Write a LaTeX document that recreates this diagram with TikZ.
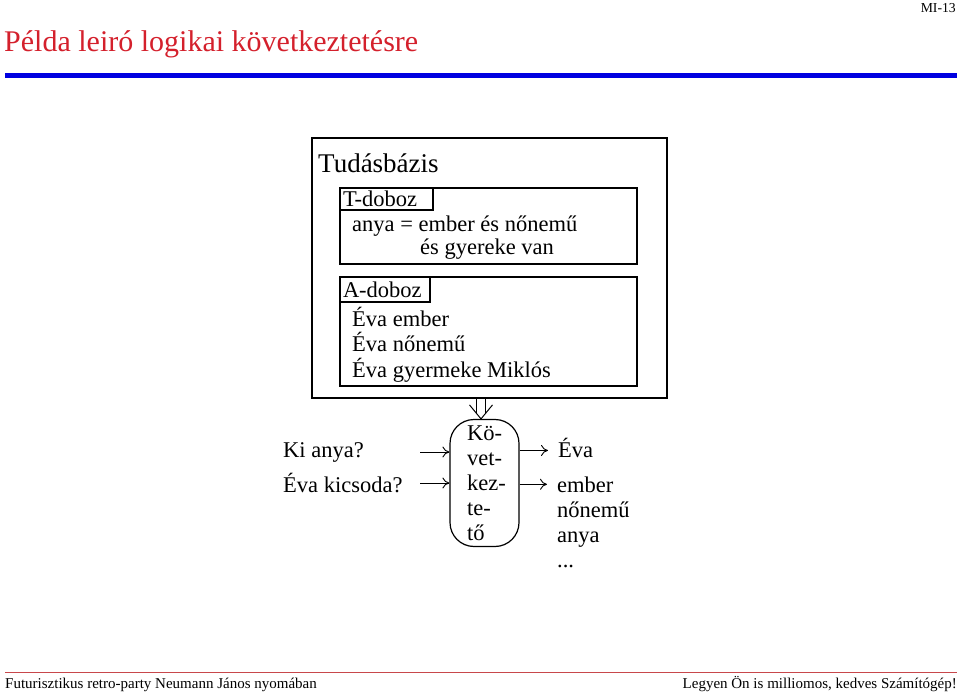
\documentclass[tikz,border=0pt]{standalone}
\usepackage{fontspec}
\setmainfont{Liberation Serif}
\usepackage{xcolor}
\usepackage{tikz}
\usetikzlibrary{arrows.meta,positioning,calc}
\definecolor{cimRed}{HTML}{D4202C}
\definecolor{savKek}{HTML}{0000E0}
\definecolor{labRed}{HTML}{C8474B}

\begin{document}
\begin{tikzpicture}[x=1pt, y=-1pt,
  font=\fontsize{22.5}{25}\selectfont,
  doboz/.style={draw, line width=1.2pt, minimum width=297pt, inner sep=0pt},
  cimke/.style={draw, line width=1.2pt, anchor=north west, inner sep=0pt, inner xsep=3pt,
                text width=87pt, align=left, minimum height=22pt},
  sor/.style={anchor=base west, inner sep=0pt},
  ki/.style={anchor=base west, inner sep=0pt, inner xsep=10pt},
  arr/.style={-{To[length=7pt,width=11pt]}, line width=0.9pt}]

\useasboundingbox (0,0) rectangle (959,698);

\node[sor, font=\fontsize{30}{34}\selectfont, text=cimRed] (cim) at (4,52) {Példa leiró logikai következtetésre};
\node[anchor=base east, inner sep=0pt, font=\fontsize{13.7}{15}\selectfont] (lapszam) at (956,13) {MI-13};
\fill[savKek] (5,73) rectangle (957,78);

\node[draw, line width=1.2pt, minimum width=355pt, minimum height=260pt] (kb) at (489.5,268) {};
\node[sor, font=\fontsize{27}{30}\selectfont] (tud) at (318,172) {Tudásbázis};

\node[doboz, minimum height=76pt] (tbox) at (488.5,226) {};
\node[cimke] (tlab) at (tbox.north west) {T-doboz};
\node[sor] (t1) at (352,231) {anya = ember és nőnemű};
\node[sor] (t2) at (420,254) {és gyereke van};

\node[doboz, minimum height=109pt] (abox) at (488.5,331.5) {};
\node[cimke, minimum height=25pt, text width=84pt] (alab) at (abox.north west) {A-doboz};
\node[sor] (a1) at (352,326) {Éva ember};
\node[sor] (a2) at (352,351) {Éva nőnemű};
\node[sor] (a3) at (352,377) {Éva gyermeke Miklós};

\node[draw, line width=1.2pt, rounded corners=24pt, minimum width=69pt, minimum height=127pt,
      inner sep=0pt, align=left] (eng) at (484.5,483) {\hspace*{4pt}Kö-\\\hspace*{4pt}vet-\\\hspace*{4pt}kez-\\\hspace*{4pt}te-\\\hspace*{4pt}tő};
\coordinate (hegy) at ([xshift=-3.5pt]eng.north);
\draw[line width=1pt] ([xshift=-4.3pt]hegy |- kb.south) -- ([xshift=-4.3pt,yshift=5.2pt]hegy);
\draw[line width=1pt] ([xshift=4.3pt]hegy |- kb.south) -- ([xshift=4.3pt,yshift=5.2pt]hegy);
\draw[line width=1pt, line join=miter] ([xshift=-11.5pt,yshift=14pt]hegy) -- (hegy) -- ([xshift=11.5pt,yshift=14pt]hegy);

\node[sor] (k1) at (283,457) {Ki anya?};
\node[sor] (k2) at (283,492) {Éva kicsoda?};
\coordinate (q1) at (420,452);
\coordinate (q2) at (420,483);
\draw[arr] (q1) -- (q1 -| eng.west);
\draw[arr] (q2) -- (q2 -| eng.west);

\node[ki] (v1) at (548,457) {Éva};
\node[ki] (o1) at (547,492) {ember};
\node[sor] (o2) at (557,517) {nőnemű};
\node[sor] (o3) at (557,542) {anya};
\node[sor] (o4) at (557,567) {...};
\draw[arr] ([yshift=-3pt]eng.east |- v1.west) -- ([yshift=-3pt]v1.west);
\draw[arr] (eng.east |- o1.west) -- (o1.west);

\draw[labRed, line width=1.5pt] (5,672.5) -- (957,672.5);
\node[sor, font=\fontsize{15}{17}\selectfont] (lab1) at (5,688) {Futurisztikus retro-party Neumann János nyomában};
\node[anchor=base east, inner sep=0pt, font=\fontsize{15}{17}\selectfont] (lab2) at (957,688) {Legyen Ön is milliomos, kedves Számítógép!};
\end{tikzpicture}
\end{document}
